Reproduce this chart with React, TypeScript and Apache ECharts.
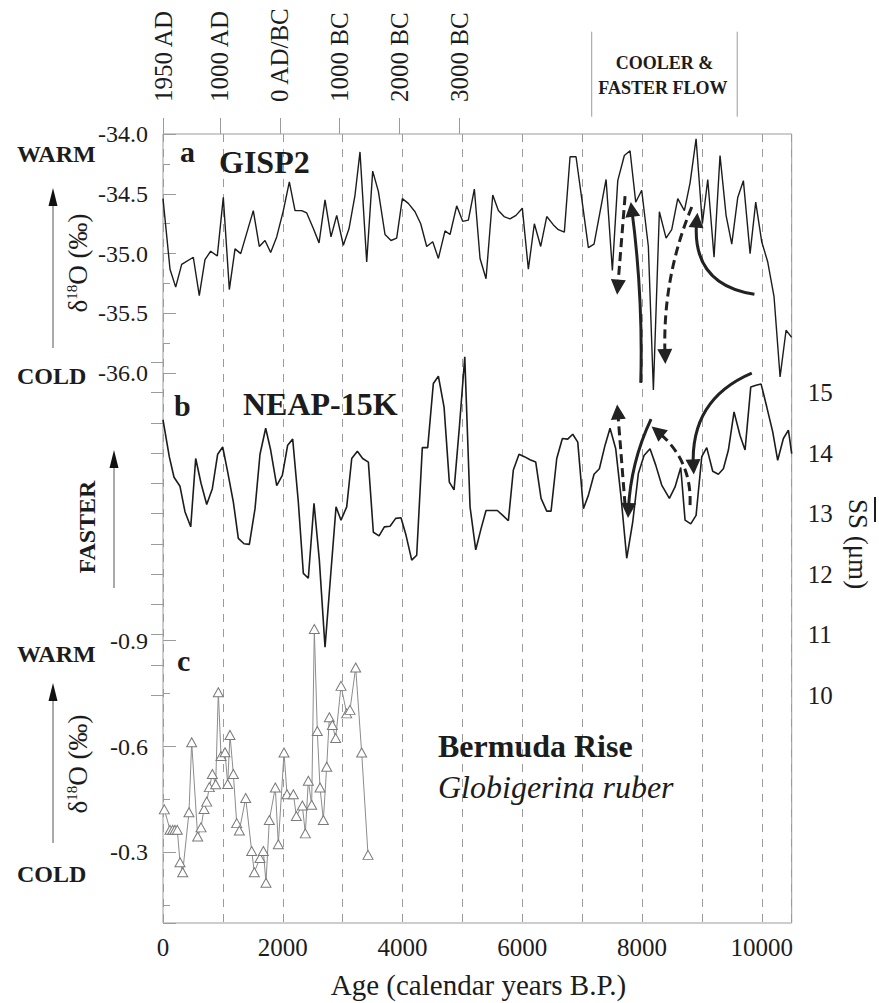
import React, { useEffect, useRef } from 'react';
import * as echarts from 'echarts';

const FONT = 'Liberation Serif, Times New Roman, serif';
const INK = '#1c1c1c';
const GRAY = '#9b9b9b';

const AGE_MIN = 0;
const AGE_MAX = 10500;

// ---- (a) GISP2 delta18O (permil) ----
const gispAge = [0, 117, 212, 312, 506, 606, 701, 796, 907, 1007, 1108, 1203, 1298, 1508, 1608, 1704, 1798, 1899, 2010, 2110, 2205, 2316, 2400, 2511, 2606, 2706, 2806, 2901, 3012, 3107, 3207, 3290, 3402, 3502, 3597, 3708, 3808, 3903, 3997, 4097, 4209, 4304, 4404, 4505, 4599, 4710, 4794, 4905, 5005, 5100, 5200, 5295, 5395, 5507, 5601, 5696, 5796, 5896, 6001, 6102, 6202, 6308, 6409, 6520, 6603, 6703, 6798, 6898, 7010, 7104, 7199, 7400, 7505, 7595, 7705, 7800, 7895, 7995, 8106, 8190, 8290, 8402, 8496, 8597, 8708, 8802, 8903, 9008, 9098, 9203, 9303, 9404, 9499, 9599, 9693, 9805, 9899, 9999, 10100, 10205, 10306, 10406, 10500];
const gispD18O = [-34.54, -35.13, -35.28, -35.09, -35.03, -35.35, -35.05, -34.98, -35.02, -34.53, -35.30, -34.96, -35.00, -34.64, -34.94, -34.89, -34.99, -34.86, -34.64, -34.40, -34.64, -34.64, -34.66, -34.79, -34.91, -34.55, -34.86, -34.68, -34.93, -34.79, -34.51, -34.15, -35.07, -34.31, -34.48, -34.84, -34.89, -34.87, -34.54, -34.58, -34.65, -34.75, -34.94, -34.90, -35.04, -34.81, -34.84, -34.60, -34.73, -34.72, -34.46, -35.04, -35.21, -34.51, -34.64, -34.69, -34.71, -34.68, -34.62, -35.13, -34.75, -34.94, -34.69, -34.76, -34.80, -34.82, -34.19, -34.19, -34.60, -34.95, -34.92, -34.38, -35.14, -34.39, -34.18, -34.14, -34.57, -34.47, -34.94, -36.14, -34.65, -34.87, -34.80, -34.54, -34.64, -34.41, -34.04, -34.75, -34.38, -35.03, -34.18, -34.68, -34.92, -34.53, -34.39, -35.00, -34.57, -34.90, -35.07, -35.36, -36.03, -35.64, -35.70];

// ---- (b) NEAP-15K sortable silt mean size (um) ----
const neapAge = [0, 105, 184, 284, 367, 463, 546, 635, 730, 824, 913, 997, 1080, 1175, 1258, 1353, 1442, 1537, 1620, 1715, 1798, 1899, 1993, 2082, 2166, 2260, 2344, 2427, 2522, 2611, 2706, 2789, 2890, 2973, 3068, 3152, 3246, 3335, 3430, 3513, 3608, 3697, 3792, 3886, 3975, 4059, 4154, 4237, 4331, 4421, 4515, 4599, 4694, 4782, 4861, 4950, 5040, 5128, 5223, 5312, 5395, 5490, 5584, 5674, 5768, 5851, 5946, 6035, 6130, 6225, 6314, 6409, 6481, 6576, 6670, 6759, 6843, 6927, 7021, 7104, 7199, 7288, 7383, 7466, 7561, 7650, 7745, 7845, 7939, 8034, 8134, 8229, 8329, 8457, 8552, 8647, 8719, 8814, 8903, 8998, 9081, 9181, 9275, 9359, 9443, 9537, 9637, 9721, 9816, 9905, 9989, 10084, 10183, 10266, 10361, 10445, 10500];
const neapSS = [14.55, 13.94, 13.60, 13.45, 13.03, 12.78, 13.91, 13.50, 13.15, 13.41, 13.98, 14.10, 13.69, 13.19, 12.59, 12.50, 12.49, 13.08, 13.98, 14.41, 14.05, 13.46, 13.63, 14.13, 14.23, 13.19, 12.01, 11.93, 13.17, 12.23, 10.79, 11.84, 13.11, 12.89, 13.11, 13.91, 14.03, 13.91, 13.85, 12.69, 12.63, 12.78, 12.79, 12.92, 12.93, 12.64, 12.23, 12.31, 14.09, 14.09, 15.15, 15.27, 14.76, 13.52, 13.39, 14.43, 15.59, 13.11, 12.40, 12.75, 13.05, 13.05, 13.05, 12.97, 12.88, 13.72, 13.98, 13.94, 13.89, 13.85, 13.25, 13.04, 13.04, 13.91, 14.24, 14.23, 14.31, 14.18, 13.08, 13.30, 13.65, 13.74, 14.13, 14.41, 14.07, 13.27, 12.26, 12.86, 13.66, 13.96, 14.07, 13.80, 13.47, 13.25, 13.44, 13.76, 12.89, 12.83, 12.97, 13.94, 14.09, 13.70, 13.65, 13.74, 14.05, 14.68, 14.29, 14.05, 15.09, 15.12, 15.14, 14.76, 14.35, 13.88, 14.24, 14.38, 13.99];

// ---- (c) Bermuda Rise G. ruber delta18O (permil) ----
const bermAge = [22, 117, 162, 200, 239, 284, 329, 434, 479, 579, 635, 685, 730, 774, 824, 880, 924, 969, 1036, 1080, 1119, 1175, 1231, 1275, 1381, 1481, 1525, 1620, 1676, 1720, 1776, 1876, 1926, 2021, 2071, 2177, 2227, 2327, 2377, 2427, 2483, 2527, 2577, 2622, 2678, 2734, 2778, 2828, 2884, 2973, 3068, 3123, 3218, 3318, 3424];
const bermD18O = [-0.422, -0.364, -0.364, -0.364, -0.364, -0.272, -0.244, -0.414, -0.612, -0.345, -0.371, -0.423, -0.444, -0.485, -0.522, -0.493, -0.754, -0.573, -0.584, -0.494, -0.633, -0.522, -0.383, -0.362, -0.454, -0.304, -0.244, -0.284, -0.304, -0.214, -0.392, -0.484, -0.323, -0.583, -0.465, -0.465, -0.403, -0.433, -0.354, -0.503, -0.435, -0.933, -0.644, -0.484, -0.392, -0.543, -0.683, -0.661, -0.624, -0.772, -0.694, -0.704, -0.824, -0.583, -0.293];

// ---- calendar tick labels (top) ----
const topTickAges = [0, 950, 1950, 2950, 3950, 4950];
const topTickLabels = ['1950 AD', '1000 AD', '0 AD/BC', '1000 BC', '2000 BC', '3000 BC'];
const bracketAges = [7160, 9590];

// ---- arrows (data coordinates of each panel) ----
const arrowsASolid = [
  { from: [7979, -36.08], to: [7829, -34.63], curve: -0.04 },
  { from: [9877, -35.34], to: [8914, -34.72], curve: 0.47 },
];
const arrowsADashed = [
  { from: [7717, -34.52], to: [7595, -35.28], curve: 0 },
  { from: [8831, -34.61], to: [8385, -35.86], curve: -0.11 },
];
const arrowsBSolid = [
  { from: [8151, 14.56], to: [7772, 13.05], curve: -0.1 },
  { from: [9833, 15.32], to: [8858, 13.77], curve: -0.35 },
];
const arrowsBDashed = [
  { from: [7717, 13.14], to: [7595, 14.68], curve: 0 },
  { from: [8802, 13.14], to: [8256, 14.36], curve: -0.25 },
];

function pairs(xs: number[], ys: number[]) {
  return xs.map((x, i) => [x, ys[i]]);
}
function near(a: number, b: number) {
  return Math.abs(a - b) < 1e-6;
}

export default function App() {
  const ref = useRef<HTMLDivElement>(null);
  useEffect(() => {
    const chart = echarts.init(ref.current as HTMLDivElement, null, { renderer: 'svg' });
    const L = 163;
    const W = 628.7;
    const labelStyle = { fontFamily: FONT, fontSize: 25, color: INK };
    const hiddenX = (gridIndex: number) => ({ type: 'value', gridIndex, min: AGE_MIN, max: AGE_MAX, show: false });

    const arrowSeries = (list: any[], xi: number, yi: number, dashed: boolean) => ({
      type: 'lines',
      coordinateSystem: 'cartesian2d',
      xAxisIndex: xi,
      yAxisIndex: yi,
      clip: false,
      silent: true,
      z: 10,
      symbol: ['none', 'triangle'],
      symbolSize: 15,
      lineStyle: { color: '#222', width: 3, type: dashed ? [9, 5] : 'solid', opacity: 1 },
      itemStyle: { color: '#222' },
      data: list.map((a) => ({ coords: [a.from, a.to], lineStyle: { curveness: a.curve } })),
    });

    const option: any = {
      animation: false,
      backgroundColor: '#ffffff',
      textStyle: { fontFamily: FONT },
      grid: [
        { left: L, top: 134, width: W, height: 789, show: true, borderColor: GRAY, borderWidth: 1, backgroundColor: 'transparent' },
        { left: L, top: 134, width: W, height: 239.3 },
        { left: L, top: 362.3, width: W, height: 332.7 },
        { left: L, top: 640.7, width: W, height: 282.3 },
      ],
      xAxis: [
        {
          type: 'value', gridIndex: 0, min: AGE_MIN, max: AGE_MAX, interval: 1000, position: 'bottom',
          axisLine: { show: false }, axisTick: { show: false },
          axisLabel: { ...labelStyle, margin: 12, formatter: (v: number) => (v % 2000 === 0 && v <= 10000 ? String(v) : '') },
          splitLine: { show: true, lineStyle: { color: GRAY, width: 1, type: [8, 7] } },
        },
        {
          type: 'value', gridIndex: 0, min: AGE_MIN, max: AGE_MAX, position: 'top',
          axisLine: { show: false },
          axisTick: { show: true, inside: false, length: 16, customValues: topTickAges, lineStyle: { color: GRAY, width: 1 } },
          axisLabel: { show: false },
          splitLine: { show: false },
        },
        hiddenX(1),
        hiddenX(2),
        hiddenX(3),
      ],
      yAxis: [
        { type: 'value', gridIndex: 0, min: 0, max: 1, show: false },
        {
          type: 'value', gridIndex: 1, min: -36, max: -34, interval: 0.5, position: 'left',
          axisLine: { show: false },
          axisTick: { show: true, inside: true, length: 13, lineStyle: { color: GRAY } },
          axisLabel: { ...labelStyle, fontSize: 24, margin: 15, formatter: (v: number) => v.toFixed(1) },
          splitLine: { show: false },
        },
        {
          type: 'value', gridIndex: 1, min: -36, max: -34, interval: 0.25, position: 'left',
          axisLine: { show: false },
          axisTick: { show: true, inside: true, length: 7, lineStyle: { color: GRAY } },
          axisLabel: { show: false }, splitLine: { show: false },
        },
        {
          type: 'value', gridIndex: 2, min: 10, max: 15.5, interval: 0.5, position: 'right',
          axisLine: { show: false },
          axisTick: { show: true, inside: true, length: 12, lineStyle: { color: GRAY } },
          axisLabel: { ...labelStyle, fontSize: 25, margin: 16, formatter: (v: number) => (Number.isInteger(Math.round(v * 1e6) / 1e6) && v <= 15 ? String(Math.round(v)) : '') },
          splitLine: { show: false },
        },
        {
          type: 'value', gridIndex: 3, min: -0.9, max: -0.1, interval: 0.3, inverse: true, position: 'left',
          axisLine: { show: false },
          axisTick: { show: true, inside: true, length: 13, lineStyle: { color: GRAY } },
          axisLabel: { ...labelStyle, fontSize: 24, margin: 15, formatter: (v: number) => (near(v, -0.9) || near(v, -0.6) || near(v, -0.3) ? v.toFixed(1) : '') },
          splitLine: { show: false },
        },
        {
          type: 'value', gridIndex: 3, min: -0.9, max: -0.1, interval: 0.15, inverse: true, position: 'left',
          axisLine: { show: false },
          axisTick: { show: true, inside: true, length: 7, lineStyle: { color: GRAY } },
          axisLabel: { show: false }, splitLine: { show: false },
        },
      ],
      series: [
        {
          type: 'line', name: 'GISP2', xAxisIndex: 2, yAxisIndex: 1, data: pairs(gispAge, gispD18O),
          symbol: 'none', showSymbol: false, clip: false, z: 5,
          lineStyle: { color: INK, width: 1.4 },
        },
        {
          type: 'line', name: 'NEAP-15K', xAxisIndex: 3, yAxisIndex: 3, data: pairs(neapAge, neapSS),
          symbol: 'none', showSymbol: false, clip: false, z: 5,
          lineStyle: { color: INK, width: 1.6 },
        },
        {
          type: 'line', name: 'Bermuda Rise', xAxisIndex: 4, yAxisIndex: 4, data: pairs(bermAge, bermD18O),
          symbol: 'triangle', symbolSize: [10, 9], showSymbol: true, clip: false, z: 5,
          lineStyle: { color: '#8c8c8c', width: 1 },
          itemStyle: { color: '#ffffff', borderColor: '#7a7a7a', borderWidth: 1 },
        },
        arrowSeries(arrowsASolid, 2, 1, false),
        arrowSeries(arrowsADashed, 2, 1, true),
        arrowSeries(arrowsBSolid, 3, 3, false),
        arrowSeries(arrowsBDashed, 3, 3, true),
      ],
    };
    chart.setOption(option);

    const px = (a: number) => chart.convertToPixel({ xAxisIndex: 0 }, a) as number;
    const bx = bracketAges.map(px);
    const midX = (bx[0] + bx[1]) / 2;

    const txt = (text: string, x: number, y: number, size: number, extra: any = {}, rotation = 0, align = 'left') => ({
      type: 'text', x, y, rotation, silent: true, z: 20,
      style: {
        text, fill: INK, fontFamily: FONT, fontSize: size, fontWeight: extra.fontWeight || 'normal', fontStyle: extra.fontStyle || 'normal',
        align, textAlign: align, verticalAlign: 'middle', textVerticalAlign: 'middle',
      },
    });
    const upArrow = (x: number, yTop: number, yBottom: number) => [
      { type: 'line', silent: true, shape: { x1: x, y1: yTop + 12, x2: x, y2: yBottom }, style: { stroke: '#555', lineWidth: 1 } },
      { type: 'polygon', silent: true, shape: { points: [[x, yTop], [x - 4.5, yTop + 18], [x + 4.5, yTop + 18]] }, style: { fill: '#111' } },
    ];
    const deltaLabel = (x: number, y: number) => ({
      type: 'text', x, y, rotation: Math.PI / 2, silent: true, z: 20,
      style: {
        text: '{d|δ}{s|18}{d|O (‰)}',
        align: 'center', textAlign: 'center', verticalAlign: 'middle', textVerticalAlign: 'middle',
        rich: {
          d: { fontSize: 27, fontFamily: FONT, fill: INK, verticalAlign: 'middle' },
          s: { fontSize: 15, fontFamily: FONT, fill: INK, verticalAlign: 'top' },
        },
      },
    });

    const B = { fontWeight: 'bold' };
    const elements: any[] = [
      // calendar labels on top ticks
      ...topTickAges.map((a, i) => txt(topTickLabels[i], px(a), 102, 25, {}, Math.PI / 2, 'left')),
      // bracket for cooler & faster flow
      { type: 'line', silent: true, shape: { x1: bx[0], y1: 31.7, x2: bx[0], y2: 116.7 }, style: { stroke: GRAY, lineWidth: 1 } },
      { type: 'line', silent: true, shape: { x1: bx[1], y1: 31.7, x2: bx[1], y2: 116.7 }, style: { stroke: GRAY, lineWidth: 1 } },
      txt('COOLER &', midX, 63, 18, B, 0, 'center'),
      txt('FASTER FLOW', midX - 1.5, 87.5, 18, B, 0, 'center'),
      // left annotations panel a
      txt('WARM', 17, 154, 24, B),
      txt('COLD', 17, 376, 24, B),
      ...upArrow(53, 188, 348),
      deltaLabel(78, 263),
      // panel b
      txt('FASTER', 87, 527, 24, B, Math.PI / 2, 'center'),
      ...upArrow(114, 450, 588),
      // panel c
      txt('WARM', 17, 654, 24, B),
      txt('COLD', 17, 874, 24, B),
      ...upArrow(53, 683, 843),
      deltaLabel(78, 764),
      // panel letters & titles
      txt('a', 180, 151, 30, B),
      txt('GISP2', 219, 162, 32, B),
      txt('b', 174, 405, 30, B),
      txt('NEAP-15K', 243, 404, 32, B),
      txt('c', 177, 660, 30, B),
      txt('Bermuda Rise', 438, 746, 32, B),
      txt('Globigerina ruber', 438, 787, 32, { fontStyle: 'italic' }),
      // x axis title
      txt('Age (calendar years B.P.)', 478.5, 985, 29, {}, 0, 'center'),
      // right axis title
      txt('SS (μm)', 858, 544, 27, {}, -Math.PI / 2, 'center'),
      { type: 'line', silent: true, shape: { x1: 875, y1: 497, x2: 875, y2: 522 }, style: { stroke: INK, lineWidth: 2 } },
    ];
    chart.setOption({ graphic: { elements } });

    return () => chart.dispose();
  }, []);

  return <div ref={ref} style={{ position: 'absolute', left: 0, top: 0, width: 879, height: 1003, background: '#fff' }} />;
}
